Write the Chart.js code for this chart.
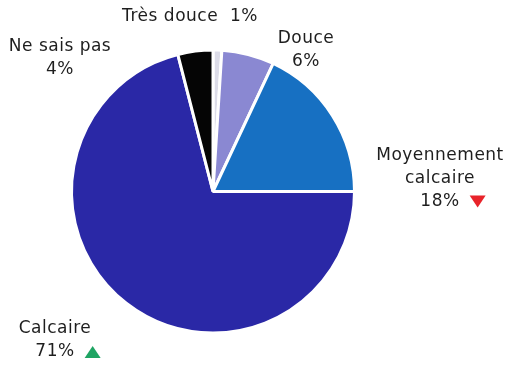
<!DOCTYPE html>
<html>
<head>
<meta charset="utf-8">
<script src="https://cdn.jsdelivr.net/npm/chart.js@4/dist/chart.umd.min.js"></script>
<style>
  html, body { margin: 0; padding: 0; background: #fff; }
  #wrap { width: 522px; height: 369px; }
</style>
</head>
<body>
<div id="wrap"><canvas id="hardnessChart" width="522" height="369"></canvas></div>
<script>
// categories and shares (%), clockwise from 12 o'clock
const categories = ['Très douce', 'Douce', 'Moyennement calcaire', 'Calcaire', 'Ne sais pas'];
const shares = [1, 6, 18, 71, 4];
// trend marks next to the value: 'down', 'up' or null
const trends = [null, null, 'down', 'up', null];

const sliceColors = ['#dcdce8', '#8a88d2', '#1770c2', '#2a28a6', '#050505'];

// label text lines and where the block sits, relative to the pie centre
const labelLines = [
    ['Très douce  ' + shares[0] + '%'],
    ['Douce', shares[1] + '%'],
    ['Moyennement', 'calcaire', shares[2] + '%'],
    ['Calcaire', shares[3] + '%'],
    ['Ne sais pas', shares[4] + '%']
];
const labelOffsets = [
    { dx: -23, dy: -175 },
    { dx: 93, dy: -141 },
    { dx: 227, dy: -13 },
    { dx: -158, dy: 149 },
    { dx: -153, dy: -133 }
];

const outsideLabels = {
    id: 'outsideLabels',
    afterDraw(chart) {
        const c = chart.ctx;
        const arc = chart.getDatasetMeta(0).data[0];
        const cx = arc.x, cy = arc.y;
        const lh = 23;
        c.save();
        c.font = '17px "DejaVu Sans", sans-serif';
        c.letterSpacing = '0.5px';
        c.fillStyle = '#1e1e1e';
        c.textAlign = 'center';
        c.textBaseline = 'middle';
        labelLines.forEach(function (lines, i) {
            const bx = cx + labelOffsets[i].dx;
            const by = cy + labelOffsets[i].dy - (lines.length - 1) * lh / 2;
            lines.forEach(function (t, j) {
                const y = by + j * lh;
                c.fillText(t, bx, y);
                if (j === lines.length - 1 && trends[i]) {
                    const w = c.measureText(t).width;
                    const tx = bx + w / 2 + 18;
                    c.beginPath();
                    if (trends[i] === 'down') {
                        c.fillStyle = '#e8232a';
                        c.moveTo(tx - 8, y - 6);
                        c.lineTo(tx + 8, y - 6);
                        c.lineTo(tx, y + 6);
                    } else {
                        c.fillStyle = '#1fa463';
                        c.moveTo(tx - 8, y + 6);
                        c.lineTo(tx + 8, y + 6);
                        c.lineTo(tx, y - 6);
                    }
                    c.closePath();
                    c.fill();
                    c.fillStyle = '#1e1e1e';
                }
            });
        });
        c.restore();
    }
};

new Chart(document.getElementById('hardnessChart').getContext('2d'), {
    type: 'pie',
    data: {
        labels: categories,
        datasets: [{
            data: shares,
            backgroundColor: sliceColors,
            borderColor: '#ffffff',
            borderWidth: 3
        }]
    },
    options: {
        responsive: false,
        animation: false,
        layout: { padding: { left: 70, right: 166, top: 48, bottom: 34 } },
        plugins: {
            legend: { display: false },
            tooltip: { enabled: false }
        }
    },
    plugins: [outsideLabels]
});
</script>
</body>
</html>
